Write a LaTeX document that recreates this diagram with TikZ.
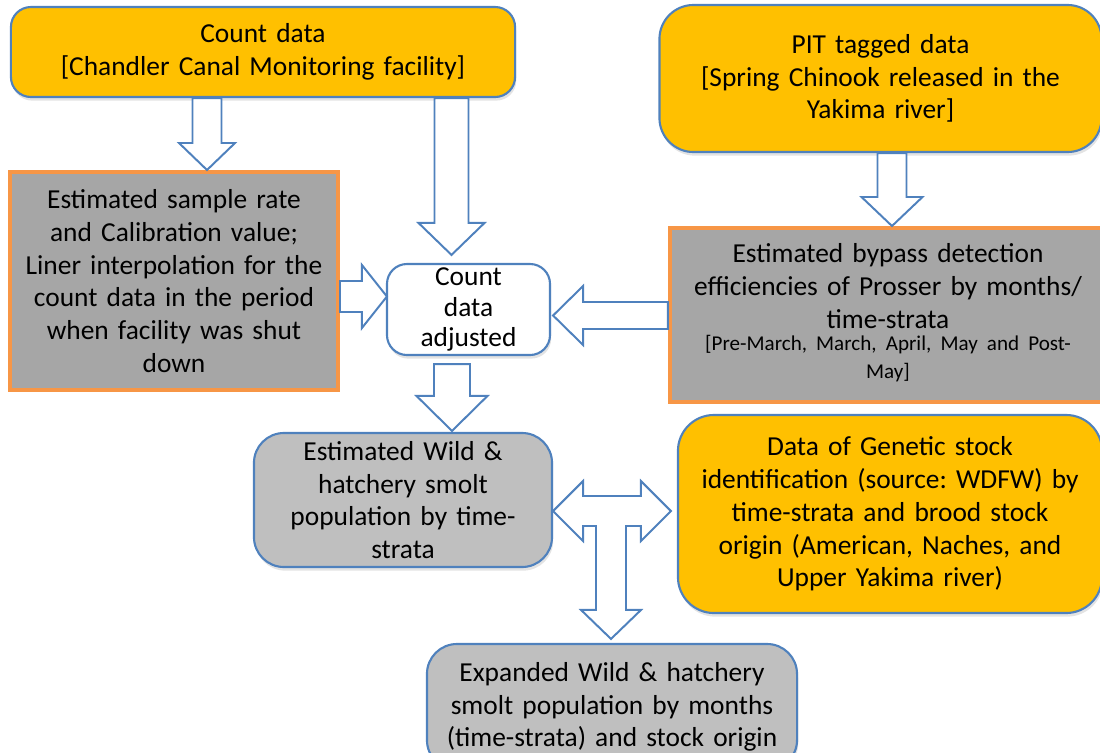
\documentclass[tikz,border=0pt]{standalone}
\usepackage{fontspec}
\setmainfont{Carlito}
\usepackage{tikz}
\usetikzlibrary{shapes,arrows}
\usetikzlibrary{calc}
\usetikzlibrary{positioning}
\usetikzlibrary{shadows}

\definecolor{gold}{RGB}{255,192,0}
\definecolor{boxblue}{RGB}{79,129,189}
\definecolor{boxorange}{RGB}{247,150,70}
\definecolor{darkgrey}{RGB}{166,166,166}
\definecolor{lightgrey}{RGB}{191,191,191}

\newcommand{\bigtext}{\fontsize{19.5}{23.3}\selectfont\frenchspacing}
\newcommand{\smalltext}{\fontsize{15}{19.5}\selectfont\frenchspacing}
\newcommand{\pxl}{0.7113pt}

\tikzstyle{roundbox} = [rectangle, draw=boxblue, line width=1.5pt, align=center, inner sep=0pt, font=\bigtext,
  drop shadow={opacity=0.22, shadow xshift=0.3mm, shadow yshift=-0.9mm}]
\tikzstyle{datain} = [roundbox, fill=gold]
\tikzstyle{result} = [roundbox, fill=lightgrey]
\tikzstyle{estimate} = [rectangle, draw=boxorange, fill=darkgrey, line width=2.8pt, align=center, inner sep=0pt, font=\bigtext]
\tikzstyle{fatarrow} = [draw=boxblue, fill=white, line width=1.4pt, line join=miter]

% block arrows: #1 tail point, #2 tip, #3 half shaft, #4 half head, #5 head length (px)
\newcommand{\fatdown}[5]{%
  \draw [fatarrow] let \p1=#1, \p2=#2 in
    (\x2-#3*\pxl,\y1) -- (\x2-#3*\pxl,\y2+#5*\pxl) -- (\x2-#4*\pxl,\y2+#5*\pxl)
    -- (\x2,\y2) -- (\x2+#4*\pxl,\y2+#5*\pxl) -- (\x2+#3*\pxl,\y2+#5*\pxl)
    -- (\x2+#3*\pxl,\y1) -- cycle;}
\newcommand{\fatright}[5]{%
  \draw [fatarrow] let \p1=#1, \p2=#2 in
    (\x1,\y2+#3*\pxl) -- (\x2-#5*\pxl,\y2+#3*\pxl) -- (\x2-#5*\pxl,\y2+#4*\pxl)
    -- (\x2,\y2) -- (\x2-#5*\pxl,\y2-#4*\pxl) -- (\x2-#5*\pxl,\y2-#3*\pxl)
    -- (\x1,\y2-#3*\pxl) -- cycle;}
\newcommand{\fatleft}[5]{%
  \draw [fatarrow] let \p1=#1, \p2=#2 in
    (\x1,\y2+#3*\pxl) -- (\x2+#5*\pxl,\y2+#3*\pxl) -- (\x2+#5*\pxl,\y2+#4*\pxl)
    -- (\x2,\y2) -- (\x2+#5*\pxl,\y2-#4*\pxl) -- (\x2+#5*\pxl,\y2-#3*\pxl)
    -- (\x1,\y2-#3*\pxl) -- cycle;}

\begin{document}
\begin{tikzpicture}[x=0.025cm, y=-0.025cm]
  \useasboundingbox (0,0) rectangle (1100,752);
  \clip (0,0) rectangle (1100,752);

  % input data
  \node [datain, name=count, rounded corners=0.5cm, minimum width=12.6cm, minimum height=2.25cm, text width=12.2cm] at (263,52)
    {Count data\\{[}Chandler Canal Monitoring facility{]}};
  \node [datain, name=pit, rounded corners=0.85cm, minimum width=11.05cm, minimum height=3.675cm, text width=10.6cm] at (880.5,78.5)
    {PIT tagged data\\{[}Spring Chinook released in the\\Yakima river{]}};

  % estimates
  \node [estimate, name=sample, minimum width=8.2cm, minimum height=5.45cm, text width=7.9cm] at (174,281)
    {Estimated sample rate\\and Calibration value;\\Liner interpolation for the\\count data in the period\\when facility was shut\\down};
  \node [estimate, name=bypass, minimum width=10.9cm, minimum height=4.35cm, text width=10.6cm] at (888,315)
    {Estimated bypass detection\\efficiencies of Prosser by months/\\time-strata\\[2pt]
     {\smalltext\begin{tabular}{@{}c@{}}{[}Pre-March, March, April, May and Post-\\May{]}\end{tabular}}};

  \node [roundbox, name=adjusted, fill=white, rounded corners=0.5cm, minimum width=4.075cm, minimum height=2.275cm, text width=3.9cm,
    font=\fontsize{19.5}{22}\selectfont] at (468.5,309.5)
    {Count\\data\\adjusted};

  % results
  \node [result, name=wildhat, rounded corners=0.75cm, minimum width=7.45cm, minimum height=3.35cm, text width=7.1cm] at (403,500)
    {Estimated Wild \&\\hatchery smolt\\population by time-\\strata};
  \node [datain, name=genetic, rounded corners=0.9cm, minimum width=10.6cm, minimum height=4.95cm, text width=10.3cm] at (890,514)
    {Data of Genetic stock\\identification (source: WDFW) by\\time-strata and brood stock\\origin (American, Naches, and\\Upper Yakima river)};
  \node [result, name=expanded, rounded corners=0.75cm, minimum width=9.25cm, minimum height=3.15cm, text width=9cm] at (612,707)
    {Expanded Wild \& hatchery\\smolt population by months\\(time-strata) and stock origin};

  % connectors
  \fatdown{(count.south)}{($(sample.north)+(33,0)$)}{14.5}{28}{27}
  \fatdown{(count.south)}{($(adjusted.north)+(-17,-8)$)}{17}{33}{32}
  \fatdown{(pit.south)}{($(bypass.north)+(4,0)$)}{14.5}{30.5}{29}
  \fatdown{($(adjusted.south)+(0,8)$)}{($(wildhat.north)+(49,-1)$)}{18}{35.5}{35}
  \fatright{(sample.east)}{($(adjusted.west)+(1,-13)$)}{15.5}{31.5}{25}
  \fatleft{(bypass.west)}{($(adjusted.east)+(2,6)$)}{13.5}{29.5}{30}

  % two-way arrow with a branch down
  \draw [fatarrow] let \p1=($(wildhat.east)+(0,11)$), \p2=($(genetic.west)+(-6,-3)$), \p3=($(expanded.north)+(-1,-4)$) in
    (\x1,\y1) -- (\x1+30*\pxl,\y1+30*\pxl) -- (\x1+30*\pxl,\y1+15*\pxl)
    -- (\x2-30*\pxl,\y1+15*\pxl) -- (\x2-30*\pxl,\y1+30*\pxl) -- (\x2,\y1)
    -- (\x2-30*\pxl,\y1-30*\pxl) -- (\x2-30*\pxl,\y1-15*\pxl)
    -- (\x3+15*\pxl,\y1-15*\pxl) -- (\x3+15*\pxl,\y3+29*\pxl) -- (\x3+30*\pxl,\y3+29*\pxl)
    -- (\x3,\y3) -- (\x3-30*\pxl,\y3+29*\pxl) -- (\x3-15*\pxl,\y3+29*\pxl)
    -- (\x3-15*\pxl,\y1-15*\pxl) -- (\x1+30*\pxl,\y1-15*\pxl) -- (\x1+30*\pxl,\y1-30*\pxl) -- cycle;
\end{tikzpicture}
\end{document}
